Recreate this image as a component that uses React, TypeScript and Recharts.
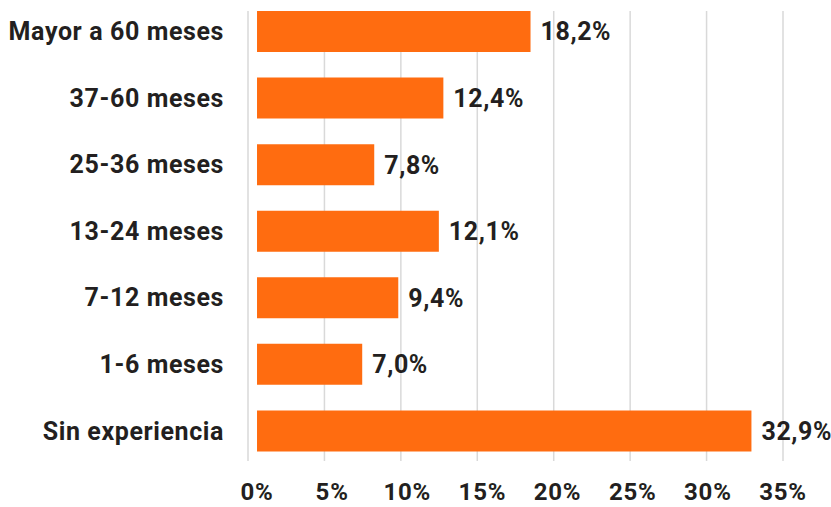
import React from "react";
import {
  BarChart,
  Bar,
  XAxis,
  YAxis,
  CartesianGrid,
  LabelList,
} from "recharts";

const categories = [
  "Mayor a 60 meses",
  "37-60 meses",
  "25-36 meses",
  "13-24 meses",
  "7-12 meses",
  "1-6 meses",
  "Sin experiencia",
];

const shares = [18.2, 12.4, 7.8, 12.1, 9.4, 7.0, 32.9];

const xTicks = [0, 5, 10, 15, 20, 25, 30, 35];

const data = categories.map((name, i) => ({ name, value: shares[i] }));

const TEXT = "#231F20";
const ORANGE = "#FF6C10";
const FONT = "Roboto, 'Noto Sans', sans-serif";
const textStyle = { fontSize: 25, fontWeight: 700, fontFamily: FONT, letterSpacing: 0.6 };

const fmtPct = (v: any) => `${Number(v).toFixed(1).replace(".", ",")}%`;

// gridlines in the original stop a little short of the plot edges
const GridLine = (props: any) => (
  <line
    key={props.key}
    x1={props.x1}
    x2={props.x2}
    y1={props.y1 + 13}
    y2={props.y2 - 3}
    stroke="#D9D9D9"
    strokeWidth={1.5}
  />
);

export default function App() {
  return (
    <div style={{ position: "absolute", left: 0, top: 0, width: 831, height: 507, background: "#fff" }}>
      <BarChart
        width={831}
        height={507}
        data={data}
        layout="vertical"
        margin={{ top: -2, right: 48, bottom: 0, left: 0 }}
        barSize={41}
      >
        <XAxis
          xAxisId="main"
          type="number"
          domain={[-0.6, 35]}
          ticks={xTicks}
          height={43}
          axisLine={false}
          tickLine={false}
          tickSize={0}
          tickMargin={19}
          tickFormatter={(v: number) => `${v}%`}
          tick={{ fill: TEXT, ...textStyle, fontSize: 24, letterSpacing: 0.8 }}
        />
        {/* the grid in the source is spread a bit wider than the bar scale */}
        <XAxis
          xAxisId="grid"
          type="number"
          domain={[0, 35]}
          ticks={xTicks}
          allowDataOverflow
          height={0}
          hide
        />
        <CartesianGrid
          xAxisId="grid"
          horizontal={false}
          vertical={GridLine}
          syncWithTicks
        />
        <YAxis
          type="category"
          dataKey="name"
          width={248}
          axisLine={false}
          tickLine={false}
          tickSize={0}
          tickMargin={24}
          tick={{ fill: TEXT, ...textStyle }}
        />
        <Bar dataKey="value" xAxisId="main" fill={ORANGE} isAnimationActive={false}>
          <LabelList
            dataKey="value"
            position="right"
            offset={10}
            formatter={fmtPct}
            fill={TEXT}
            style={textStyle}
          />
        </Bar>
      </BarChart>
    </div>
  );
}
